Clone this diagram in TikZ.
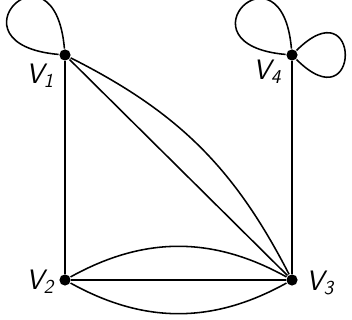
\documentclass[tikz,border=0pt]{standalone}
\begin{document}
\begin{tikzpicture}[node distance=5.625cm, line width=1.1pt,
		vertex/.style={circle, fill=black, inner sep=0pt, minimum size=0.28cm},
		vname/.style={font=\fontsize{20}{20}\selectfont\sffamily\slshape, inner sep=1pt}]
		\useasboundingbox (0,0) rectangle (8.8,8);
		\node (v1) [vertex] at (1.625,6.625) {};
		\node (v2) [below of=v1, vertex] {};
		\node (v3) [right of=v2, vertex, node distance=5.675cm] {};
		\node (v4) [above of=v3, vertex] {};
		
		\node (l1) [vname] at (1,6.1) {V\textsubscript{1}};
		\node (l2) [vname] at (1,0.95) {V\textsubscript{2}};
		\node (l3) [vname] at (8,0.93) {V\textsubscript{3}};
		\node (l4) [vname] at (6.68,6.2) {V\textsubscript{4}};
		
		\draw (v1) -- (v2);
		\draw (v1) -- (v3);
		\draw (v1) to[bend left=18] (v3);
		\draw (v2) -- (v3);
		\draw (v2) to[bend left=29] (v3);
		\draw (v2) to[bend right=29] (v3);
		\draw (v4) -- (v3);
		
		% loops
		\draw (v1) to[out=95, in=175, min distance=2.9cm] (v1);
		\draw (v4) to[out=95, in=175, min distance=2.8cm] (v4);
		\draw (v4) to[out=45, in=-45, min distance=2.3cm] (v4);
	\end{tikzpicture}
\end{document}
